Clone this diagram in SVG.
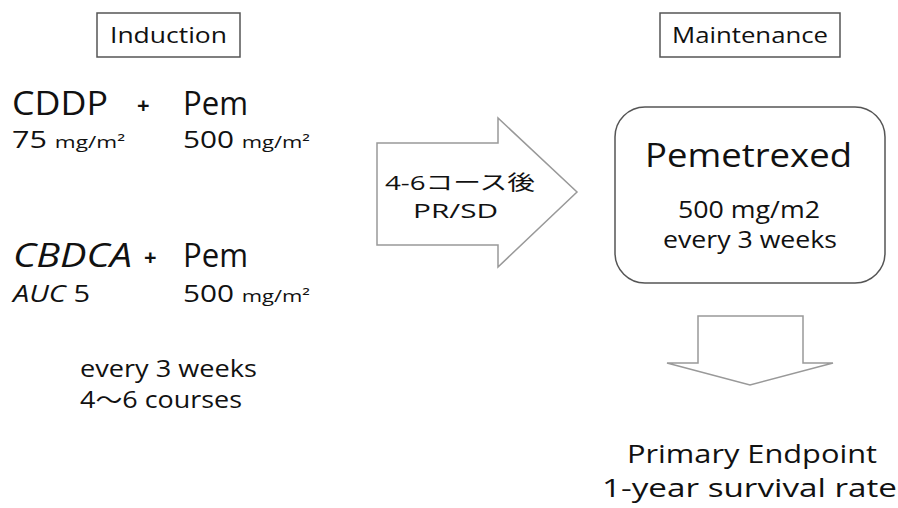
<svg xmlns="http://www.w3.org/2000/svg" width="898" height="508" viewBox="0 0 898 508">
<style>
text{font-family:"Comic Sans MS","Open Sans","Noto Sans CJK JP",sans-serif;fill:#111}
.lbl{fill:#fff;stroke:#555;stroke-width:1.5}
.arr{fill:#fff;stroke:#999;stroke-width:1.5}
.big{font-size:33px}
.mid{font-size:23px}
.sm{font-size:17px}
.plus{font-size:22px;font-weight:bold}
</style>
<rect width="898" height="508" fill="#fff"/>
<g id="induction-label">
<rect class="lbl" x="97" y="13" width="143" height="44"/>
<text x="110" y="43" font-size="21" textLength="117" lengthAdjust="spacingAndGlyphs">Induction</text>
</g>
<g id="maintenance-label">
<rect class="lbl" x="660" y="13" width="180" height="44"/>
<text x="672" y="43" font-size="21" textLength="156" lengthAdjust="spacingAndGlyphs">Maintenance</text>
</g>
<g id="regimen1">
<text class="big" x="12" y="115" textLength="96" lengthAdjust="spacingAndGlyphs">CDDP</text>
<text class="plus" x="137" y="113">+</text>
<text class="big" x="183" y="115" textLength="65" lengthAdjust="spacingAndGlyphs">Pem</text>
<text x="12" y="148" textLength="113" lengthAdjust="spacingAndGlyphs"><tspan class="mid">75 </tspan><tspan class="sm">mg/m²</tspan></text>
<text x="183" y="148" textLength="127" lengthAdjust="spacingAndGlyphs"><tspan class="mid">500 </tspan><tspan class="sm">mg/m²</tspan></text>
</g>
<g id="regimen2">
<text class="big" x="13" y="267" textLength="119" lengthAdjust="spacingAndGlyphs" font-style="italic">CBDCA</text>
<text class="plus" x="144" y="265">+</text>
<text class="big" x="183" y="267" textLength="65" lengthAdjust="spacingAndGlyphs">Pem</text>
<text class="mid" x="13" y="302" textLength="77" lengthAdjust="spacingAndGlyphs"><tspan font-style="italic">AUC</tspan> 5</text>
<text x="183" y="302" textLength="127" lengthAdjust="spacingAndGlyphs"><tspan class="mid">500 </tspan><tspan class="sm">mg/m²</tspan></text>
</g>
<g id="schedule">
<text class="mid" x="80" y="377" textLength="177" lengthAdjust="spacingAndGlyphs">every 3 weeks</text>
<text class="mid" x="80" y="408" textLength="162" lengthAdjust="spacingAndGlyphs">4〜6 courses</text>
</g>
<g id="transition-arrow">
<polygon class="arr" points="377,143 498,143 498,118 577,192 498,267 498,245 377,245"/>
<text x="385" y="190" font-size="20" textLength="150" lengthAdjust="spacingAndGlyphs">4-6コース後</text>
<text x="413" y="218" font-size="20" textLength="85" lengthAdjust="spacingAndGlyphs">PR/SD</text>
</g>
<g id="pemetrexed">
<rect x="615" y="107" width="270" height="176" rx="30" ry="30" fill="#fff" stroke="#555" stroke-width="1.5"/>
<text x="645" y="167" font-size="32" textLength="207" lengthAdjust="spacingAndGlyphs">Pemetrexed</text>
<text class="mid" x="678" y="218" textLength="142" lengthAdjust="spacingAndGlyphs">500 mg/m2</text>
<text class="mid" x="663" y="248" textLength="174" lengthAdjust="spacingAndGlyphs">every 3 weeks</text>
</g>
<g id="connectors">
<polygon class="arr" points="698,316 803,316 803,363 833,363 750,385 667,363 698,363"/>
</g>
<g id="endpoint">
<text x="627" y="463" font-size="25" textLength="250" lengthAdjust="spacingAndGlyphs">Primary Endpoint</text>
<text x="602" y="497" font-size="25" textLength="295" lengthAdjust="spacingAndGlyphs">1-year survival rate</text>
</g>
</svg>
